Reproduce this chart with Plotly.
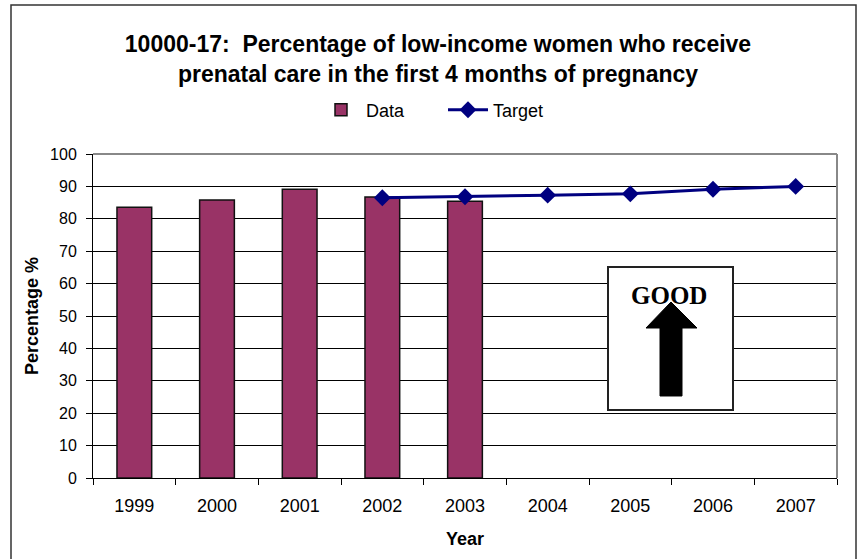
import plotly.graph_objects as go

# Chart data
years = ["1999", "2000", "2001", "2002", "2003", "2004", "2005", "2006", "2007"]
data_years = ["1999", "2000", "2001", "2002", "2003"]
data_values = [83.6, 85.8, 89.1, 86.7, 85.4]
target_years = ["2002", "2003", "2004", "2005", "2006", "2007"]
target_values = [86.5, 86.8, 87.3, 87.7, 89.1, 90.0]
y_ticks = [0, 10, 20, 30, 40, 50, 60, 70, 80, 90, 100]

W, H = 859, 559
L, R, T, B = 93, 22, 154, 81
PW, PH = W - L - R, H - T - B


def px(x):
    return (x - L) / PW


def py(y):
    return (H - B - y) / PH


FONT = "Arial, 'Liberation Sans', sans-serif"

fig = go.Figure()
fig.add_trace(go.Bar(
    x=data_years, y=data_values, name="Data",
    marker=dict(color="#993366", line=dict(color="#111111", width=1.5)),
))
fig.add_trace(go.Scatter(
    x=target_years, y=target_values, name="Target", mode="lines+markers",
    line=dict(color="#000080", width=3),
    marker=dict(symbol="diamond", size=13, color="#000080"),
))

shapes = [
    # outer frame
    dict(type="rect", xref="paper", yref="paper", x0=px(11), x1=px(856),
         y0=py(570), y1=py(5), line=dict(color="#333333", width=1.5),
         layer="below"),
    # plot area top/right border
    dict(type="line", xref="paper", yref="paper", x0=0, x1=1, y0=1, y1=1,
         line=dict(color="#888888", width=2)),
    dict(type="line", xref="paper", yref="paper", x0=1, x1=1, y0=0, y1=1,
         line=dict(color="#888888", width=2)),
    # GOOD box
    dict(type="rect", xref="paper", yref="paper", x0=px(608), x1=px(733),
         y0=py(410), y1=py(267), fillcolor="white",
         line=dict(color="#222222", width=2)),
]

# upward arrow inside the box
arrow_pts = [(660, 396), (682, 396), (682, 328), (697, 328), (671, 302),
             (646, 328), (660, 328)]
path = "M " + " L ".join(f"{px(x):.5f},{py(y):.5f}" for x, y in arrow_pts) + " Z"
shapes.append(dict(type="path", xref="paper", yref="paper", path=path,
                   fillcolor="black", line=dict(color="black", width=1)))

fig.update_layout(
    width=W, height=H,
    margin=dict(l=L, r=R, t=T, b=B, autoexpand=False),
    paper_bgcolor="white", plot_bgcolor="white",
    font=dict(family=FONT, size=18, color="black"),
    title=dict(
        text="<b>10000-17:  Percentage of low-income women who receive<br>"
             "prenatal care in the first 4 months of pregnancy</b>",
        x=px(438), xref="paper", xanchor="center",
        y=1 - 52 / H, yref="container", yanchor="middle",
        font=dict(family=FONT, size=23, color="black"),
    ),
    legend=dict(orientation="h", x=px(316), xanchor="left",
                y=py(110), yanchor="middle", font=dict(size=18),
                bgcolor="rgba(0,0,0,0)", itemwidth=40, entrywidth=72),
    bargap=0.58,
    showlegend=True,
    shapes=shapes,
    annotations=[dict(text="<b>GOOD</b>", xref="paper", yref="paper",
                      x=px(669), y=py(295), xanchor="center", yanchor="middle",
                      showarrow=False,
                      font=dict(family="'Liberation Serif', 'Times New Roman', serif",
                                size=25, color="black"))],
)

fig.update_xaxes(
    type="category", categoryorder="array", categoryarray=years,
    range=[-0.5, len(years) - 0.5], automargin=False,
    showline=True, linecolor="black", linewidth=1,
    ticks="outside", tickson="boundaries", ticklen=6, tickcolor="black",
    ticklabelstandoff=11, tickfont=dict(size=18),
    showgrid=False,
    title=dict(text="<b>Year</b>", font=dict(size=18), standoff=17),
)
fig.update_yaxes(
    range=[0, 100], tickvals=y_ticks, automargin=False,
    showline=True, linecolor="black", linewidth=1,
    ticks="outside", ticklen=6, tickcolor="black", tickfont=dict(size=16),
    ticklabelstandoff=6,
    showgrid=True, gridcolor="black", gridwidth=1, zeroline=False,
    title=dict(text="<b>Percentage %</b>", font=dict(size=18), standoff=6),
)

fig.write_html("out.html")
